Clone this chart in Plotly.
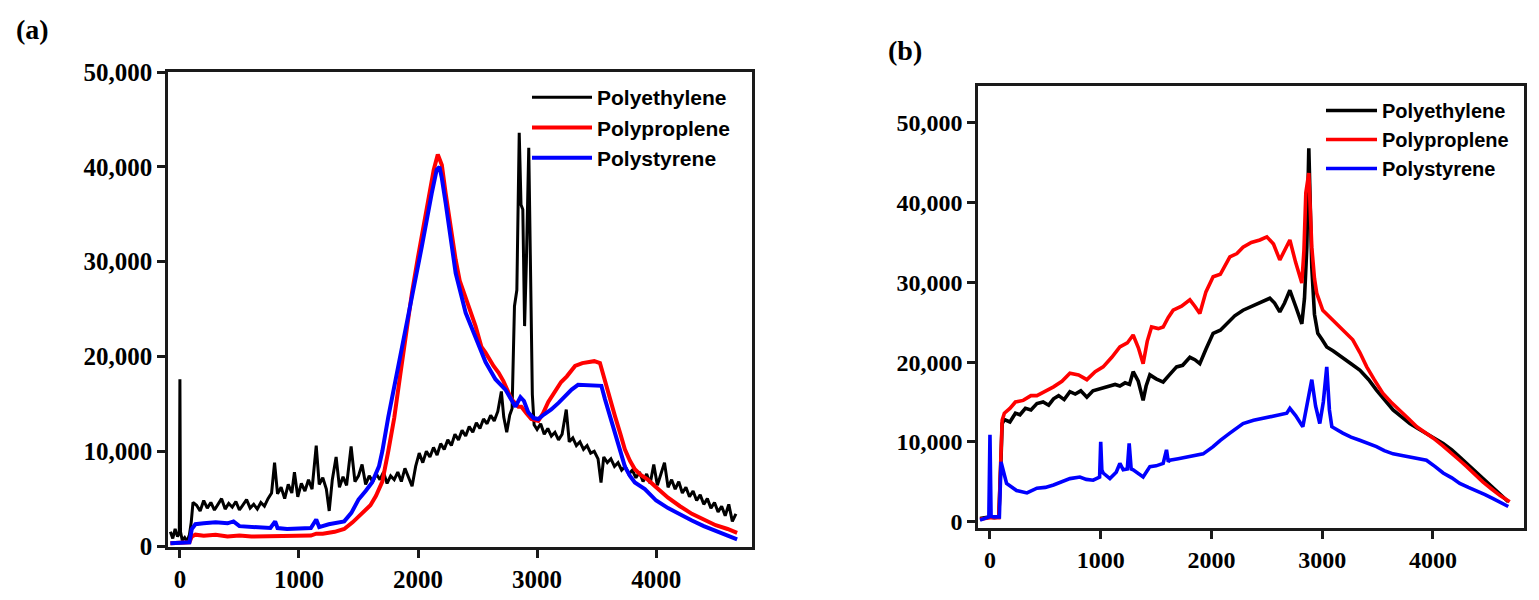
import plotly.graph_objects as go

# ---------------- Panel (a) data ----------------
a_pe_x = [-80, -60, -40, -20, -5, 0, 5, 20, 40, 60, 80, 95, 110, 140, 170, 200, 230, 260, 290, 320,
          350, 380, 410, 440, 470, 500, 530, 560, 590, 620, 650, 680, 710, 740, 770, 795, 820, 850, 880,
          910, 940, 962, 990, 1020, 1050, 1080, 1110, 1145, 1170, 1200, 1230, 1254, 1280, 1312, 1340,
          1370, 1400, 1438, 1470, 1500, 1530, 1560, 1590, 1620, 1650, 1680, 1710, 1740, 1770, 1800,
          1830, 1860, 1890, 1920, 1950, 1980, 2010, 2040, 2070, 2100, 2130, 2160, 2190, 2220, 2250,
          2280, 2310, 2340, 2370, 2400, 2430, 2460, 2490, 2520, 2550, 2580, 2610, 2640, 2670, 2700,
          2720, 2745, 2770, 2790, 2810, 2830, 2850, 2865, 2880, 2895, 2910, 2930, 2945, 2960, 2975,
          3000, 3030, 3060, 3090, 3120, 3150, 3180, 3210, 3245, 3270, 3300, 3330, 3360, 3390, 3420,
          3450, 3480, 3512, 3537, 3560, 3590, 3620, 3650, 3680, 3710, 3740, 3770, 3800, 3830, 3860,
          3890, 3920, 3950, 3980, 4010, 4040, 4070, 4100, 4130, 4160, 4190, 4220, 4250, 4280, 4310,
          4340, 4370, 4400, 4430, 4460, 4490, 4520, 4550, 4580, 4610, 4640, 4670]
a_pe_y = [1500, 800, 1800, 1000, 1400, 17600, 1500, 600, 900, 500, 1200, 2500, 4600, 4300, 3700, 4800,
          4000, 4600, 3800, 4400, 5000, 3900, 4500, 4100, 4700, 3800, 4300, 4900, 4000, 4400, 3900,
          4600, 4200, 5000, 5600, 8800, 5500, 6200, 5000, 6500, 5600, 7800, 5200, 6600, 5800, 7000,
          6000, 10600, 6500, 7200, 6000, 3700, 7000, 9400, 6200, 7300, 6400, 10500, 6800, 7400, 8600,
          6500, 7400, 6800, 7600, 7000, 7800, 6600, 7400, 7000, 7800, 6800, 8200, 7200, 6300, 8400,
          9800, 8800, 10000, 9400, 10400, 9600, 10800, 10200, 11200, 10600, 11800, 11200, 12200,
          11600, 12600, 12000, 13000, 12400, 13400, 12900, 13800, 13200, 14200, 16300, 13600, 12000,
          13800, 14500, 25300, 27000, 43600, 36000, 35500, 23200, 30000, 42000, 30000, 16000, 12800,
          12300, 12900, 11800, 12400, 11600, 12000, 11200, 11800, 14400, 11000, 11400, 10600, 11000,
          10200, 10600, 9800, 10000, 9200, 6700, 9400, 8800, 9200, 8400, 8800, 8000, 8400, 7600, 8000,
          7200, 7800, 6800, 7600, 6600, 8600, 6400, 7600, 8800, 6200, 7000, 6000, 6800, 5600, 6200,
          5200, 5800, 4800, 5400, 4400, 5000, 4000, 4600, 3600, 4200, 3200, 4400, 2600, 3400]

a_pp_x = [-80, 0, 80, 100, 130, 200, 300, 400, 500, 600, 700, 800, 900, 1000, 1100, 1145, 1200, 1300,
          1380, 1450, 1530, 1600, 1647, 1700, 1750, 1800, 1850, 1900, 1950, 2000, 2050, 2100, 2132,
          2166, 2200, 2232, 2280, 2316, 2350, 2400, 2450, 2483, 2533, 2567, 2634, 2676, 2717, 2759,
          2784, 2843, 2868, 2910, 2951, 3010, 3050, 3094, 3150, 3202, 3250, 3319, 3380, 3428, 3480,
          3528, 3570, 3612, 3654, 3700, 3737, 3780, 3821, 3870, 3930, 4000, 4100, 4200, 4300, 4400,
          4500, 4600, 4680]
a_pp_y = [300, 300, 400, 1000, 1200, 1100, 1200, 1000, 1100, 1000, 1000, 1100, 1000, 1050, 1100, 1300,
          1300, 1500, 1800, 2500, 3500, 4300, 5300, 6800, 10000, 13500, 18000, 22500, 26800, 30500,
          34000, 37500, 39700, 41300, 40200, 37200, 32800, 30200, 28000, 26300, 24500, 23200, 21000,
          20400, 19000, 18300, 17400, 16200, 15500, 14700, 14700, 14000, 13400, 13200, 14000, 15200,
          16300, 17300, 17900, 19000, 19300, 19400, 19500, 19300, 17300, 15500, 13700, 11800, 10200,
          9000, 8100, 7500, 7000, 6200, 5100, 4200, 3400, 2800, 2200, 1800, 1400]

a_ps_x = [-80, 0, 80, 100, 130, 200, 300, 400, 450, 500, 600, 700, 760, 800, 820, 900, 1000, 1100, 1145,
          1170, 1250, 1300, 1380, 1440, 1500, 1560, 1614, 1672, 1700, 1750, 1814, 1880, 1948, 2032,
          2115, 2157, 2180, 2200, 2232, 2316, 2400, 2483, 2567, 2650, 2734, 2818, 2860, 2890, 2926,
          2970, 3010, 3060, 3119, 3180, 3236, 3290, 3344, 3400, 3480, 3540, 3570, 3612, 3654, 3700,
          3737, 3780, 3821, 3905, 4000, 4100, 4200, 4300, 4400, 4500, 4600, 4680]
a_ps_y = [300, 300, 400, 1800, 2300, 2400, 2500, 2400, 2600, 2100, 2000, 1900, 1900, 2600, 1900, 1800,
          1800, 1900, 2800, 2000, 2300, 2400, 2600, 3500, 4900, 5800, 6700, 8400, 10000, 13600, 17600,
          21800, 26000, 31600, 37200, 39700, 40000, 38800, 36200, 28800, 24600, 22100, 19400, 17600,
          16500, 14700, 15700, 15300, 14100, 13500, 13400, 13900, 14400, 15100, 15800, 16500, 17000,
          17000, 17000, 16900, 15500, 13800, 12000, 10000, 8400, 7400, 6700, 6000, 4800, 4000, 3300,
          2700, 2100, 1600, 1100, 700]

# ---------------- Panel (b) data ----------------
b_pe_x = [-90, -40, 0, 40, 80, 100, 110, 130, 180, 230, 271, 320, 370, 424, 480, 530, 574, 620, 670,
          722, 770, 820, 875, 930, 980, 1022, 1080, 1130, 1173, 1220, 1260, 1293, 1339, 1383, 1410,
          1444, 1500, 1564, 1620, 1685, 1740, 1805, 1850, 1895, 1950, 2015, 2080, 2137, 2210, 2285,
          2360, 2437, 2527, 2570, 2617, 2660, 2708, 2760, 2816, 2840, 2861, 2879, 2895, 2906, 2930,
          2960, 3000, 3041, 3100, 3186, 3260, 3339, 3420, 3490, 3560, 3640, 3720, 3791, 3860, 3941,
          4020, 4092, 4170, 4242, 4320, 4393, 4470, 4543, 4610, 4680]
b_pe_y = [400, 500, 600, 500, 600, 8000, 12300, 12800, 12500, 13600, 13400, 14200, 14000, 14800, 15000,
          14600, 15400, 15800, 15300, 16300, 16000, 16400, 15600, 16400, 16600, 16700, 16900, 17200,
          17000, 17400, 17200, 18800, 17600, 15200, 17000, 18400, 17900, 17500, 18400, 19400, 19600,
          20600, 20300, 19800, 21600, 23600, 24000, 24800, 25800, 26500, 27000, 27500, 28000, 27400,
          26300, 27400, 29000, 27000, 24800, 28000, 34400, 46800, 38000, 31900, 26000, 23600, 22800,
          21900, 21400, 20600, 19800, 19000, 17800, 16500, 15300, 14000, 13100, 12300, 11700, 11100,
          10400, 9800, 9000, 8100, 7100, 6100, 5100, 4200, 3400, 2500]

b_pp_x = [-90, 0, 80, 100, 110, 130, 180, 230, 300, 370, 424, 480, 574, 650, 722, 800, 875, 950, 1022,
          1100, 1173, 1240, 1293, 1340, 1383, 1420, 1459, 1520, 1564, 1610, 1654, 1730, 1805, 1850,
          1895, 1950, 2015, 2080, 2166, 2230, 2285, 2360, 2437, 2500, 2560, 2617, 2660, 2708, 2760,
          2816, 2835, 2852, 2879, 2895, 2906, 2930, 2951, 3005, 3070, 3132, 3200, 3276, 3340, 3402,
          3470, 3547, 3620, 3700, 3780, 3854, 3930, 4000, 4090, 4179, 4240, 4305, 4380, 4450, 4530,
          4603, 4693]
b_pp_y = [300, 500, 500, 8000, 12700, 13600, 14200, 15000, 15200, 15800, 15800, 16200, 16900, 17600,
          18600, 18400, 17800, 18800, 19400, 20600, 21900, 22400, 23400, 21800, 19800, 22600, 24400,
          24200, 24400, 25600, 26500, 27000, 27800, 27000, 26100, 28800, 30700, 31000, 33200, 33600,
          34400, 35000, 35300, 35700, 34800, 32800, 34000, 35300, 32500, 29900, 34000, 41200, 43700,
          38000, 34400, 30500, 28600, 26500, 25600, 24800, 23800, 22800, 21200, 19400, 17800, 16100,
          15000, 14000, 12900, 11900, 11200, 10500, 9500, 8500, 7700, 6900, 5900, 5000, 4100, 3300, 2500]

b_ps_x = [-90, -40, -10, 0, 10, 30, 60, 85, 100, 150, 240, 334, 424, 500, 574, 650, 722, 812, 870, 932,
          990, 1000, 1010, 1022, 1083, 1140, 1173, 1203, 1240, 1257, 1275, 1293, 1340, 1383, 1444,
          1500, 1564, 1594, 1610, 1624, 1700, 1775, 1850, 1925, 2015, 2080, 2166, 2230, 2285, 2380,
          2500, 2590, 2680, 2708, 2760, 2825, 2870, 2906, 2940, 2978, 3010, 3041, 3065, 3087, 3186,
          3260, 3339, 3420, 3490, 3560, 3640, 3720, 3791, 3860, 3941, 4020, 4092, 4170, 4242, 4320,
          4393, 4470, 4543, 4610, 4680]
b_ps_y = [200, 400, 600, 10900, 700, 600, 600, 600, 7500, 4800, 3900, 3600, 4200, 4300, 4600, 5000,
          5400, 5600, 5300, 5200, 5600, 10000, 6500, 6100, 5400, 6200, 7300, 6500, 6600, 9800, 6600,
          6500, 6000, 5600, 6900, 7000, 7300, 9000, 7500, 7700, 7900, 8100, 8200, 8500, 9400, 10200,
          11100, 11700, 12300, 12700, 13100, 13300, 13600, 14200, 13300, 11900, 15000, 17800, 14500,
          12300, 15000, 19400, 14000, 11900, 11100, 10600, 10200, 9800, 9400, 8900, 8500, 8300, 8100,
          7900, 7700, 6900, 6100, 5500, 4800, 4300, 3900, 3400, 2900, 2400, 1900]

series_names = ["Polyethylene", "Polyproplene", "Polystyrene"]
series_colors = ["#000000", "#ff0000", "#0000ff"]
x_ticks = [0, 1000, 2000, 3000, 4000]
y_ticks = [0, 10000, 20000, 30000, 40000, 50000]
panel_labels = ["(a)", "(b)"]

fig = go.Figure()

a_sets = [(a_pe_x, a_pe_y, 3.0), (a_pp_x, a_pp_y, 4.0), (a_ps_x, a_ps_y, 4.0)]
for (xs, ys, w), name, col in zip(a_sets, series_names, series_colors):
    fig.add_trace(go.Scatter(x=xs, y=ys, mode="lines", name=name, legend="legend",
                             line=dict(color=col, width=w), xaxis="x", yaxis="y"))

b_sets = [(b_pe_x, b_pe_y, 3.6), (b_pp_x, b_pp_y, 3.6), (b_ps_x, b_ps_y, 3.6)]
for (xs, ys, w), name, col in zip(b_sets, series_names, series_colors):
    fig.add_trace(go.Scatter(x=xs, y=ys, mode="lines", name=name, legend="legend2",
                             line=dict(color=col, width=w), xaxis="x2", yaxis="y2"))

W, H = 1539, 600
axis_common = dict(showline=True, mirror=True, linecolor="#1a1a1a", linewidth=2.5,
                   ticks="outside", ticklen=8, tickwidth=2.5, tickcolor="#1a1a1a",
                   showgrid=False, zeroline=False, automargin=False)

fig.update_layout(
    template="none",
    width=W, height=H,
    margin=dict(l=0, r=0, t=0, b=0, pad=0, autoexpand=False),
    paper_bgcolor="white", plot_bgcolor="white",
    xaxis=dict(domain=[168 / W, 752 / W], range=[-100, 4805], tickvals=x_ticks,
               anchor="y",
               tickfont=dict(family="Liberation Serif", size=25, color="black", weight="bold"),
               **axis_common),
    yaxis=dict(domain=[1 - 547 / H, 1 - 72 / H], range=[-100, 50000], tickvals=y_ticks,
               tickformat=",d", anchor="x",
               tickfont=dict(family="Liberation Serif", size=25, color="black", weight="bold"),
               **axis_common),
    xaxis2=dict(domain=[978 / W, 1524 / W], range=[-108, 4822], tickvals=x_ticks,
                anchor="y2",
                tickfont=dict(family="Liberation Serif", size=24, color="black", weight="bold"),
                **axis_common),
    yaxis2=dict(domain=[1 - 528 / H, 1 - 86 / H], range=[-790, 54600], tickvals=y_ticks,
                tickformat=",d", anchor="x2",
                tickfont=dict(family="Liberation Serif", size=24, color="black", weight="bold"),
                **axis_common),
    legend=dict(x=527 / W, y=1 - 77 / H, xanchor="left", yanchor="top", itemwidth=60,
                bgcolor="rgba(0,0,0,0)", borderwidth=0, tracegroupgap=0,
                font=dict(family="Liberation Sans", size=21, color="black", weight="bold")),
    legend2=dict(x=1321 / W, y=1 - 91 / H, xanchor="left", yanchor="top", itemwidth=51,
                 bgcolor="rgba(0,0,0,0)", borderwidth=0, tracegroupgap=0,
                 font=dict(family="Liberation Sans", size=20, color="black", weight="bold")),
    showlegend=True,
)

label_pos = [(32 / W, 1 - 29 / H), (905 / W, 1 - 50 / H)]
for txt, (px, py) in zip(panel_labels, label_pos):
    fig.add_annotation(text=txt, x=px, y=py, xref="paper", yref="paper", showarrow=False,
                       xanchor="center", yanchor="middle",
                       font=dict(family="Liberation Serif", size=28, color="black", weight="bold"))

fig.write_html("out.html")
